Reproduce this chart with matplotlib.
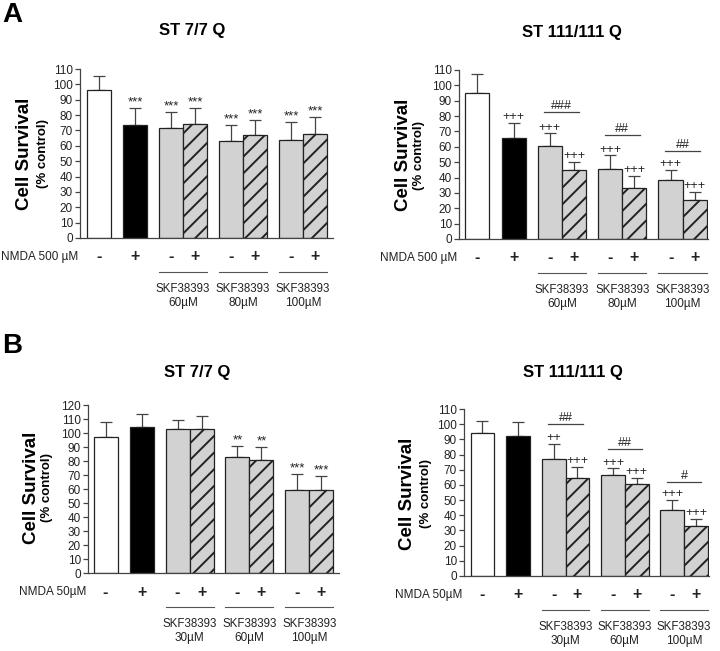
import numpy as np
import matplotlib.pyplot as plt

plt.rcParams['font.family'] = ['Liberation Sans', 'DejaVu Sans']
plt.rcParams['hatch.linewidth'] = 1.4

# bar layout shared by all four panels
positions = [0, 1.5, 3, 4, 5.5, 6.5, 8, 9]
nmda_signs = ['-', '+', '-', '+', '-', '+', '-', '+']
faces = ['white', 'black', '#d2d2d2', '#d2d2d2', '#d2d2d2', '#d2d2d2', '#d2d2d2', '#d2d2d2']
hatches = ['', '', '', '//', '', '//', '', '//']
pair_centers = [3.5, 6, 8.5]

# A - ST 7/7 Q, NMDA 500 uM
a77_mean = [96.3, 73.4, 71.9, 74.3, 63.4, 67.3, 63.8, 68.0]
a77_err = [9.4, 10.9, 10.0, 10.0, 10.0, 9.6, 11.6, 10.9]
a77_marks = ['', '***', '***', '***', '***', '***', '***', '***']

# A - ST 111/111 Q, NMDA 500 uM
a111_mean = [95.0, 65.6, 60.6, 44.9, 45.3, 33.3, 38.3, 25.7]
a111_err = [12.4, 10.2, 8.2, 5.2, 9.2, 7.9, 6.6, 5.0]
a111_marks = ['', '+++', '+++', '+++', '+++', '+++', '+++', '+++']
a111_pairs = ['###', '##', '##']
a111_pair_y = [82.4, 67.8, 57.3]

# B - ST 7/7 Q, NMDA 50 uM
b77_mean = [97.4, 104.0, 102.6, 102.6, 82.6, 80.9, 59.4, 59.2]
b77_err = [10.2, 9.4, 6.9, 9.8, 8.3, 8.8, 11.0, 9.8]
b77_marks = ['', '', '', '', '**', '**', '***', '***']

# B - ST 111/111 Q, NMDA 50 uM
b111_mean = [94.5, 92.5, 76.9, 64.3, 66.3, 60.8, 43.8, 32.8]
b111_err = [7.5, 8.8, 9.9, 7.7, 4.6, 4.0, 6.2, 4.9]
b111_marks = ['', '', '++', '+++', '+++', '+++', '+++', '+++']
b111_pairs = ['##', '##', '#']
b111_pair_y = [100.0, 83.5, 61.7]

a_doses = ['60\u00b5M', '80\u00b5M', '100\u00b5M']
b_doses = ['30\u00b5M', '60\u00b5M', '100\u00b5M']

W, H = 720, 651
fig = plt.figure(figsize=(W / 100, H / 100), dpi=100)


def px_axes(left, right, top, bottom):
    return fig.add_axes([left / W, 1 - bottom / H, (right - left) / W, (bottom - top) / H])


def panel(box, xlim, ymax, means, errs, marks, nmda, doses, title, title_xy,
          ylab_x, ylab_y, pairs=None, pair_y=None):
    left, right, top, bottom = box
    ax = px_axes(left, right, top, bottom)
    hpx = bottom - top
    for x, m, e, fc, h, mk in zip(positions, means, errs, faces, hatches, marks):
        ax.bar(x, m, width=1.0, color=fc, edgecolor='#222222', linewidth=0.9,
               hatch=h, zorder=2)
        ax.errorbar(x, m, yerr=[[0], [e]], color='#444444', elinewidth=0.9,
                    capsize=4.6, capthick=0.9, zorder=1)
        if mk:
            ax.text(x, m + e + 1.8, mk, ha='center', va='baseline',
                    fontsize=9.5 if '*' in mk else 9, color='#222222')
    if pairs:
        for c, lab, y in zip(pair_centers, pairs, pair_y):
            ax.plot([c - 0.72, c + 0.72], [y, y], color='#444444', lw=0.9)
            ax.text(c, y + 2.0, lab, ha='center', va='baseline', fontsize=9,
                    color='#222222')
    ax.set_xlim(*xlim)
    ax.set_ylim(0, ymax)
    ax.set_yticks(np.arange(0, ymax + 1, 10))
    ax.set_xticks([])
    for s in ['top', 'right']:
        ax.spines[s].set_visible(False)
    for s in ['left', 'bottom']:
        ax.spines[s].set_color('#444444')
        ax.spines[s].set_linewidth(0.9)
    ax.tick_params(axis='y', length=3.5, width=0.9, color='#444444',
                   labelsize=8.5, labelcolor='#222222', pad=1.5)

    tr = ax.get_xaxis_transform()
    for x, s in zip(positions, nmda_signs):
        ax.text(x, -19 / hpx, s, transform=tr, ha='center', va='center',
                fontsize=11.5, fontweight='bold',
                color='#222222', clip_on=False)
    fig.text((left - 2) / W, 1 - (bottom + 19) / H, nmda, ha='right', va='center',
             fontsize=8.5, color='#222222')
    for c, d in zip(pair_centers, doses):
        ax.plot([c - 1.0, c + 1.0], [-34 / hpx] * 2, transform=tr, color='#555555',
                lw=0.8, clip_on=False)
        ax.text(c, -51 / hpx, 'SKF38393', transform=tr, ha='center', va='center',
                fontsize=8.3, color='#222222')
        ax.text(c, -65 / hpx, d, transform=tr, ha='center', va='center',
                fontsize=8.5, color='#222222')

    fig.text(title_xy[0] / W, 1 - title_xy[1] / H, title, ha='center', va='center',
             fontsize=12, fontweight='bold')
    fig.text(ylab_x[0] / W, 1 - ylab_y / H, 'Cell Survival', rotation=90,
             ha='center', va='center', fontsize=13.5, fontweight='bold')
    fig.text(ylab_x[1] / W, 1 - ylab_y / H, '(% control)', rotation=90,
             ha='center', va='center', fontsize=9.5, fontweight='bold')
    return ax


panel((80, 333, 69, 238), (-0.79, 9.75), 110, a77_mean, a77_err, a77_marks,
      'NMDA 500 \u00b5M', a_doses, 'ST 7/7 Q', (192, 30), (25, 43), 154)
panel((459, 708, 70, 239), (-0.76, 9.55), 110, a111_mean, a111_err, a111_marks,
      'NMDA 500 \u00b5M', a_doses, 'ST 111/111 Q', (572, 33), (403, 419), 155,
      a111_pairs, a111_pair_y)
panel((88, 339, 405, 573), (-0.73, 9.73), 120, b77_mean, b77_err, b77_marks,
      'NMDA 50\u00b5M', b_doses, 'ST 7/7 Q', (197, 373), (31, 47), 488)
panel((464, 709, 409, 576), (-0.78, 9.55), 110, b111_mean, b111_err, b111_marks,
      'NMDA 50\u00b5M', b_doses, 'ST 111/111 Q', (573, 372), (408, 426), 494,
      b111_pairs, b111_pair_y)

fig.text(2 / W, 1 - 15 / H, 'A', ha='left', va='center', fontsize=20, fontweight='bold')
fig.text(2 / W, 1 - 346 / H, 'B', ha='left', va='center', fontsize=20, fontweight='bold')

fig.savefig('out.png', dpi=100)
